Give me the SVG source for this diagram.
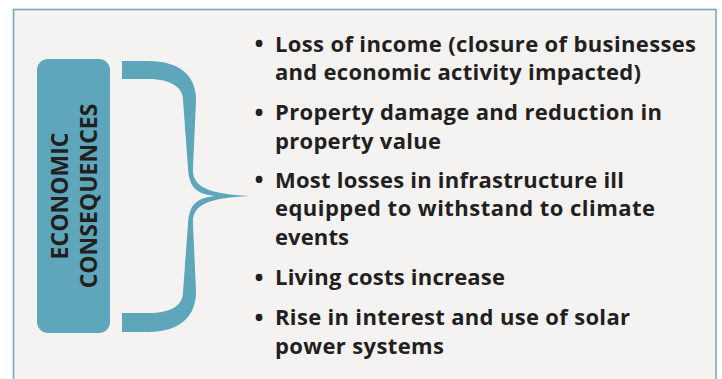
<svg xmlns="http://www.w3.org/2000/svg" width="722" height="379" viewBox="0 0 722 379">
  <style>
    .frame { fill: #f4f3f2; stroke: #79a9ba; stroke-width: 1.6; }
    .teal { fill: #5ea7ba; }
    .label { font-family: "Open Sans", "Noto Sans", sans-serif; font-weight: 700; font-size: 23px; fill: #231f20; text-anchor: middle; }
    .item { font-family: "Open Sans", "Noto Sans", sans-serif; font-weight: 700; font-size: 22px; fill: #231f20; }
    .bullet { font-size: 24px; }
  </style>

  <rect class="frame" x="13.5" y="9.5" width="702.5" height="400"/>

  <!-- label node -->
  <g id="node-economic-consequences">
    <rect class="teal" x="37" y="59" width="73" height="274" rx="11" ry="11"/>
    <text class="label" transform="translate(68,196) rotate(-90)">ECONOMIC</text>
    <text class="label" transform="translate(97,196) rotate(-90)">CONSEQUENCES</text>
  </g>

  <!-- curly brace joining the label to the list -->
  <g id="connectors">
    <path class="teal" d="M122,61 L148,61 C180,61 196,76 196,100 L193,168 C192,186 205,194 250,196 C205,198 192,206 193,224 L196,292 C196,316 180,332 148,332 L122,332 L122,313 L148,313 C172,313 183,305 183,292 L188,224 C189,205 196,198 215,196 C196,194 189,187 188,168 L183,100 C183,88 172,79 148,79 L122,79 Z"/>
  </g>

  <!-- bulleted list -->
  <g id="node-list" class="item">
    <text class="bullet" x="254.5" y="52">•</text>
    <text x="275" y="51.5" textLength="421" lengthAdjust="spacing">Loss of income (closure of businesses</text>
    <text x="275" y="80" textLength="366" lengthAdjust="spacing">and economic activity impacted)</text>

    <text class="bullet" x="254.5" y="120.5">•</text>
    <text x="275" y="120" textLength="387" lengthAdjust="spacing">Property damage and reduction in</text>
    <text x="275" y="148.5" textLength="166" lengthAdjust="spacing">property value</text>

    <text class="bullet" x="254.5" y="188">•</text>
    <text x="275" y="187.5" textLength="349" lengthAdjust="spacing">Most losses in infrastructure ill</text>
    <text x="275" y="216" textLength="380" lengthAdjust="spacing">equipped to withstand to climate</text>
    <text x="275" y="244.5" textLength="74" lengthAdjust="spacing">events</text>

    <text class="bullet" x="254.5" y="285.5">•</text>
    <text x="275" y="285" textLength="230" lengthAdjust="spacing">Living costs increase</text>

    <text class="bullet" x="254.5" y="325.5">•</text>
    <text x="275" y="325" textLength="355" lengthAdjust="spacing">Rise in interest and use of solar</text>
    <text x="275" y="353.5" textLength="169" lengthAdjust="spacing">power systems</text>
  </g>
</svg>
